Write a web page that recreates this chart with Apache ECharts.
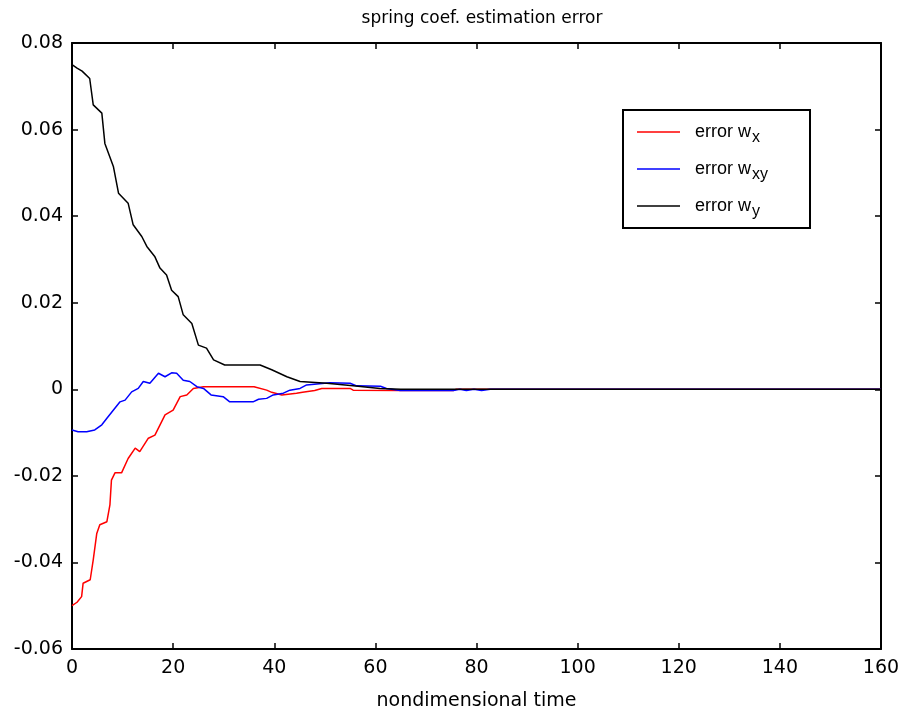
<!DOCTYPE html>
<html><head><meta charset="utf-8">
<script src="https://cdn.jsdelivr.net/npm/echarts@6/dist/echarts.min.js"></script>
<style>html,body{margin:0;padding:0;background:#fff}#c{width:904px;height:717px}</style>
</head><body><div id="c"></div>
<script>
const xTicks = [0,20,40,60,80,100,120,140,160];
const yTicks = [-0.06,-0.04,-0.02,0,0.02,0.04,0.06,0.08];

const wxT = [0,1,1.9,2.2,3.6,4.2,4.9,5.5,6.9,7.5,7.8,8.5,9.8,11.1,12.5,13.4,15.1,16.4,18.4,20,21.4,22.7,24,26,36,38.5,39.5,41.5,44.4,45.6,48,49.4,55,55.6,65,75.4,76,160];
const wxV = [-0.05,-0.0492,-0.0479,-0.0448,-0.044,-0.0394,-0.0333,-0.0313,-0.0306,-0.0267,-0.021,-0.0193,-0.0193,-0.016,-0.0136,-0.0144,-0.0113,-0.0106,-0.0059,-0.0048,-0.0017,-0.0013,0.0002,0.0006,0.0006,-0.0002,-0.0007,-0.0013,-0.0009,-0.0007,-0.0003,0.0002,0.0002,-0.0002,-0.0003,-0.0003,0,0];

const wxyT = [0,1.2,2.9,4.5,5.9,6.9,8.2,9.5,10.5,11.8,13.1,14.1,15.4,17.1,18.4,19.7,20.7,22,23.3,24.7,26,27.5,29.9,31.2,35.8,36.9,38.5,39.8,41.8,43.1,45.1,46.4,51,55,56.3,61,62.2,64.9,75.4,76.7,78,79.5,81,82.7,160];
const wxyV = [-0.0094,-0.0098,-0.0098,-0.0094,-0.0082,-0.0067,-0.0048,-0.0029,-0.0025,-0.0006,0.0002,0.0018,0.0014,0.0037,0.0029,0.0038,0.0037,0.0021,0.0018,0.0006,0.0002,-0.0013,-0.0017,-0.0029,-0.0029,-0.0023,-0.0021,-0.0013,-0.0009,-0.0002,0.0002,0.001,0.0015,0.0014,0.0008,0.0007,0.0002,-0.0003,-0.0003,0,-0.0003,0,-0.0003,0,0];

const wyT = [0,1,2,3.5,4.2,5.9,6.5,8.2,9.2,11.1,12.1,13.8,14.8,16.4,17.4,18.7,19.7,21,22,23.7,25,26.6,28,30.2,37.2,39.5,42.5,45.1,50.4,55.6,60.9,65,160];
const wyV = [0.075,0.0742,0.0735,0.0718,0.0657,0.0638,0.0568,0.0514,0.0453,0.043,0.038,0.0353,0.033,0.0306,0.028,0.0264,0.0229,0.0214,0.0172,0.0152,0.0102,0.0095,0.0068,0.0056,0.0056,0.0045,0.0029,0.0018,0.0014,0.0008,0.0002,0,0];

const names = ['error wx','error wxy','error wy'];
const subs = {'error wx':'x','error wxy':'xy','error wy':'y'};
const zip = (t,v) => t.map((x,i)=>[x,v[i]]);

const font = 'DejaVu Sans, sans-serif';
const lfont = 'Liberation Sans, Arial, sans-serif';
const chart = echarts.init(document.getElementById('c'));
const axisCommon = {
  axisLine:{show:true,onZero:false,lineStyle:{color:'#000',width:2}},
  axisTick:{show:true,inside:true,length:6,lineStyle:{color:'#000',width:1.5}},
  splitLine:{show:false}
};
chart.setOption({
  animation:false,
  backgroundColor:'#fff',
  title:{text:'spring coef. estimation error',left:477,top:5,textAlign:'center',
    textStyle:{fontFamily:font,fontSize:17,fontWeight:'normal',color:'#000'}},
  grid:{left:72,right:23,top:43,bottom:68},
  legend:{
    orient:'vertical',left:623,top:110,
    padding:[8,42,8,14],itemGap:9,itemWidth:43,itemHeight:1.5,icon:'rect',
    borderColor:'#000',borderWidth:2,backgroundColor:'#fff',
    data:names,
    formatter:n=>'{a|error w}{b|'+subs[n]+'}',
    textStyle:{fontFamily:lfont,fontSize:18,color:'#000',
      rich:{a:{fontFamily:lfont,fontSize:18,color:'#000',lineHeight:25,padding:[0,0,0,10]},
            b:{fontFamily:lfont,fontSize:16,color:'#000',lineHeight:25,padding:[12,0,0,1]}}}
  },
  xAxis:[
    Object.assign({type:'value',min:0,max:160,interval:20,position:'bottom',
      name:'nondimensional time',nameLocation:'middle',nameGap:43,
      nameTextStyle:{fontFamily:font,fontSize:19,color:'#000'},
      axisLabel:{fontFamily:font,fontSize:19,color:'#000',margin:10}},axisCommon),
    Object.assign({type:'value',min:0,max:160,interval:20,position:'top',axisLabel:{show:false}},axisCommon)
  ],
  yAxis:[
    Object.assign({type:'value',min:-0.06,max:0.08,interval:0.02,position:'left',
      axisLabel:{fontFamily:font,fontSize:19,color:'#000',margin:9,
        formatter:v=>{const r=Math.round(v*100)/100;return r===0?'0':r.toFixed(2);}}},axisCommon),
    Object.assign({type:'value',min:-0.06,max:0.08,interval:0.02,position:'right',axisLabel:{show:false}},axisCommon)
  ],
  series:[
    {name:names[0],type:'line',symbol:'none',data:zip(wxT,wxV),lineStyle:{color:'#ff0000',width:1.5},itemStyle:{color:'#ff0000'}},
    {name:names[1],type:'line',symbol:'none',data:zip(wxyT,wxyV),lineStyle:{color:'#0000ff',width:1.5},itemStyle:{color:'#0000ff'}},
    {name:names[2],type:'line',symbol:'none',data:zip(wyT,wyV),lineStyle:{color:'#000',width:1.5},itemStyle:{color:'#000'}}
  ]
});
</script></body></html>
